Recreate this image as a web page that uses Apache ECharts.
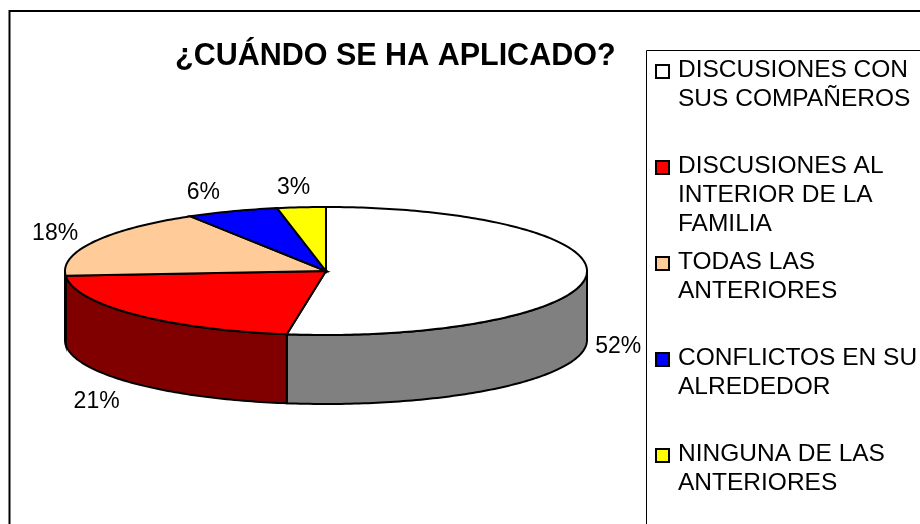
<!DOCTYPE html>
<html>
<head>
<meta charset="utf-8">
<title>¿Cuándo se ha aplicado?</title>
<script src="https://cdn.jsdelivr.net/npm/echarts@6/dist/echarts.min.js"></script>
<style>
  html, body { margin: 0; padding: 0; background: #fff; }
  #main { width: 920px; height: 524px; }
</style>
</head>
<body>
<div id="main"></div>
<script>
// datos
const titleText = '¿CUÁNDO SE HA APLICADO?'
const categories = [
  'DISCUSIONES CON\nSUS COMPAÑEROS',
  'DISCUSIONES AL\nINTERIOR DE LA\nFAMILIA',
  'TODAS LAS\nANTERIORES',
  'CONFLICTOS EN SU\nALREDEDOR',
  'NINGUNA DE LAS\nANTERIORES'
]
const values = [52.4, 21.4, 17.5, 5.7, 3.0]
const topColors = ['#ffffff', '#ff0000', '#ffcc99', '#0000ff', '#ffff00']
const wallColors = ['#808080', '#800000', '#806640', '#000080', '#808000']

const FONT = '"Liberation Sans", Arial, sans-serif'
const DEPTH = 69 // alto del canto en px
const LABEL_NUDGE = [2, -16, -12, -18, -5] // ajuste horizontal de las etiquetas

// fracciones acumuladas de cada porcion
const total = values.reduce((a, b) => a + b, 0)
let acc = 0
const slices = values.map((v, i) => {
  const start = acc / total
  acc += v
  return [start, acc / total, i]
})

// punto del borde: fraccion 0 arriba, sentido horario, circulo unidad en ejes -1..1
function rim (api, frac) {
  const a = frac * Math.PI * 2
  return api.coord([Math.sin(a), Math.cos(a)])
}

function arc (api, from, to) {
  const pts = []
  const n = Math.max(2, Math.ceil((to - from) * 360))
  for (let k = 0; k <= n; k++) {
    pts.push(rim(api, from + (to - from) * k / n))
  }
  return pts
}

function renderWall (params, api) {
  // solo se ve el canto delantero
  const from = Math.max(api.value(0), 0.25)
  const to = Math.min(api.value(1), 0.75)
  if (to <= from) return null
  const upper = arc(api, from, to)
  const lower = upper.map(p => [p[0], p[1] + DEPTH]).reverse()
  return {
    type: 'polygon',
    shape: { points: upper.concat(lower) },
    style: { fill: wallColors[api.value(2)], stroke: '#000', lineWidth: 2 }
  }
}

function renderTop (params, api) {
  const from = api.value(0)
  const to = api.value(1)
  const i = api.value(2)
  const center = api.coord([0, 0])
  const edge = rim(api, 0.25)
  const top = rim(api, 0)
  const rx = edge[0] - center[0]
  const ry = center[1] - top[1]
  const mid = (from + to) / 2 * Math.PI * 2
  const front = mid > Math.PI / 2 && mid < Math.PI * 1.5
  return {
    type: 'group',
    children: [
      {
        type: 'polygon',
        shape: { points: [center].concat(arc(api, from, to)) },
        style: { fill: topColors[i], stroke: '#000', lineWidth: 2 }
      },
      {
        type: 'text',
        style: {
          x: center[0] + (rx + 30) * Math.sin(mid) + LABEL_NUDGE[i],
          y: center[1] - (ry + (front ? 26 : 21)) * Math.cos(mid) + (front ? DEPTH : 1),
          text: Math.round(values[i]) + '%',
          fill: '#000',
          font: '23px ' + FONT,
          align: 'center',
          verticalAlign: 'middle'
        }
      }
    ]
  }
}

// leyenda a mano: el cuadro va a la altura de la primera linea
const LEGEND_STEP = 96
const legendItems = []
categories.forEach((name, i) => {
  legendItems.push({
    type: 'rect',
    shape: { x: 656, y: 65 + i * LEGEND_STEP, width: 13, height: 13 },
    style: { fill: topColors[i], stroke: '#000', lineWidth: 2 }
  })
  legendItems.push({
    type: 'text',
    x: 678,
    y: 56 + i * LEGEND_STEP,
    style: {
      text: name,
      fill: '#000',
      font: '24.5px ' + FONT,
      lineHeight: 29
    }
  })
})

const chartInstance = echarts.init(document.getElementById('main'), null, { renderer: 'canvas' })
chartInstance.setOption({
  animation: false,
  backgroundColor: '#fff',
  title: {
    text: titleText,
    left: 175,
    top: 41,
    padding: 0,
    textStyle: { fontFamily: FONT, fontSize: 30.5, fontWeight: 'bold', color: '#000' }
  },
  grid: { left: 65, top: 207, width: 522, height: 128 },
  xAxis: { type: 'value', min: -1, max: 1, show: false },
  yAxis: { type: 'value', min: -1, max: 1, show: false },
  graphic: [
    // marco y caja de leyenda, cortados por el borde de la imagen
    { type: 'rect', z: -1, shape: { x: 9.5, y: 11, width: 1000, height: 1000 }, style: { fill: '#fff', stroke: '#000', lineWidth: 2 } },
    { type: 'rect', z: -1, shape: { x: 646.5, y: 50.5, width: 1000, height: 1000 }, style: { fill: '#fff', stroke: '#000', lineWidth: 1 } }
  ].concat(legendItems),
  series: [
    { type: 'custom', z: 2, clip: false, silent: true, renderItem: renderWall, data: slices },
    { type: 'custom', z: 3, clip: false, silent: true, renderItem: renderTop, data: slices }
  ]
})
</script>
</body>
</html>
